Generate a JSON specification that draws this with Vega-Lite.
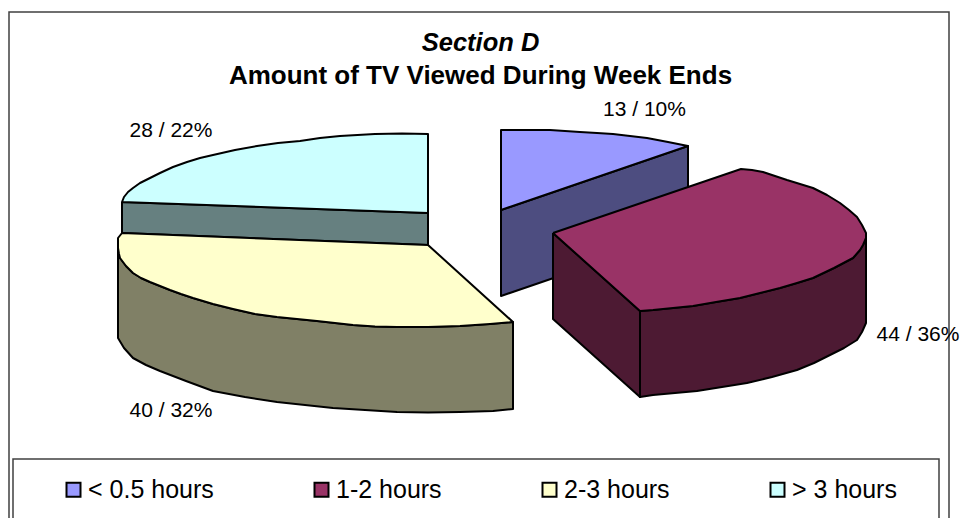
{"$schema":"https://vega.github.io/schema/vega-lite/v6.json","width":961,"height":518,"padding":0,"autosize":{"type":"none"},"background":"white","view":{"stroke":null},
"title":{"text":"Section D","subtitle":"Amount of TV Viewed During Week Ends","anchor":"middle","offset":-89,"font":"Liberation Sans","fontSize":25.5,"fontWeight":"bold","fontStyle":"italic","color":"black","subtitleFont":"Liberation Sans","subtitleFontSize":26,"subtitleFontWeight":"bold","subtitleColor":"black","subtitlePadding":7},
"datasets":{
"frames":[{"name":"chart","x":9,"x2":949,"y":12,"y2":530},{"name":"legend","x":13,"x2":939,"y":459,"y2":530}],
"slices":[{"category":"< 0.5 hours","count":13,"share":10,"label":"13 / 10%","lx":644.5,"ly":110},{"category":"1-2 hours","count":44,"share":36,"label":"44 / 36%","lx":918,"ly":335},{"category":"2-3 hours","count":40,"share":32,"label":"40 / 32%","lx":171,"ly":411},{"category":"> 3 hours","count":28,"share":22,"label":"28 / 22%","lx":171,"ly":131}],
"sides":[
{"category":"> 3 hours","piece":"s1","seq":1,"x":122,"y":202},{"category":"> 3 hours","piece":"s1","seq":2,"x":428,"y":213},{"category":"> 3 hours","piece":"s1","seq":3,"x":428,"y":245},{"category":"> 3 hours","piece":"s1","seq":4,"x":122,"y":233},{"category":"> 3 hours","piece":"s1","seq":5,"x":122,"y":202},
{"category":"2-3 hours","piece":"y1","seq":1,"x":118,"y":248},{"category":"2-3 hours","piece":"y1","seq":2,"x":119,"y":254},{"category":"2-3 hours","piece":"y1","seq":3,"x":120,"y":258},{"category":"2-3 hours","piece":"y1","seq":4,"x":126,"y":266},{"category":"2-3 hours","piece":"y1","seq":5,"x":133,"y":273},{"category":"2-3 hours","piece":"y1","seq":6,"x":141,"y":278},{"category":"2-3 hours","piece":"y1","seq":7,"x":150,"y":282},{"category":"2-3 hours","piece":"y1","seq":8,"x":160,"y":286},{"category":"2-3 hours","piece":"y1","seq":9,"x":170,"y":290},{"category":"2-3 hours","piece":"y1","seq":10,"x":181,"y":294},{"category":"2-3 hours","piece":"y1","seq":11,"x":193,"y":298},{"category":"2-3 hours","piece":"y1","seq":12,"x":213,"y":304},{"category":"2-3 hours","piece":"y1","seq":13,"x":233,"y":309},{"category":"2-3 hours","piece":"y1","seq":14,"x":255,"y":314},{"category":"2-3 hours","piece":"y1","seq":15,"x":277,"y":317},{"category":"2-3 hours","piece":"y1","seq":16,"x":297,"y":319},{"category":"2-3 hours","piece":"y1","seq":17,"x":317,"y":321},{"category":"2-3 hours","piece":"y1","seq":18,"x":335,"y":323},{"category":"2-3 hours","piece":"y1","seq":19,"x":353,"y":325},{"category":"2-3 hours","piece":"y1","seq":20,"x":375,"y":326.5},{"category":"2-3 hours","piece":"y1","seq":21,"x":397,"y":327},{"category":"2-3 hours","piece":"y1","seq":22,"x":428,"y":327},{"category":"2-3 hours","piece":"y1","seq":23,"x":460,"y":326},{"category":"2-3 hours","piece":"y1","seq":24,"x":490,"y":324},{"category":"2-3 hours","piece":"y1","seq":25,"x":513,"y":322},{"category":"2-3 hours","piece":"y1","seq":26,"x":513,"y":409},{"category":"2-3 hours","piece":"y1","seq":27,"x":493,"y":411},{"category":"2-3 hours","piece":"y1","seq":28,"x":460,"y":412},{"category":"2-3 hours","piece":"y1","seq":29,"x":428,"y":412.5},{"category":"2-3 hours","piece":"y1","seq":30,"x":397,"y":412},{"category":"2-3 hours","piece":"y1","seq":31,"x":365,"y":410},{"category":"2-3 hours","piece":"y1","seq":32,"x":333,"y":408},{"category":"2-3 hours","piece":"y1","seq":33,"x":305,"y":405},{"category":"2-3 hours","piece":"y1","seq":34,"x":277,"y":402},{"category":"2-3 hours","piece":"y1","seq":35,"x":245,"y":397},{"category":"2-3 hours","piece":"y1","seq":36,"x":213,"y":391},{"category":"2-3 hours","piece":"y1","seq":37,"x":186,"y":381},{"category":"2-3 hours","piece":"y1","seq":38,"x":160,"y":371},{"category":"2-3 hours","piece":"y1","seq":39,"x":146,"y":365},{"category":"2-3 hours","piece":"y1","seq":40,"x":133,"y":358},{"category":"2-3 hours","piece":"y1","seq":41,"x":124,"y":348},{"category":"2-3 hours","piece":"y1","seq":42,"x":118,"y":338},{"category":"2-3 hours","piece":"y1","seq":43,"x":118,"y":248},
{"category":"< 0.5 hours","piece":"b1","seq":1,"x":501,"y":210},{"category":"< 0.5 hours","piece":"b1","seq":2,"x":688,"y":146},{"category":"< 0.5 hours","piece":"b1","seq":3,"x":688,"y":232},{"category":"< 0.5 hours","piece":"b1","seq":4,"x":501,"y":296},{"category":"< 0.5 hours","piece":"b1","seq":5,"x":501,"y":210},
{"category":"1-2 hours","piece":"m1","seq":1,"x":553,"y":233},{"category":"1-2 hours","piece":"m1","seq":2,"x":640,"y":311},{"category":"1-2 hours","piece":"m1","seq":3,"x":640,"y":397},{"category":"1-2 hours","piece":"m1","seq":4,"x":553,"y":319},{"category":"1-2 hours","piece":"m1","seq":5,"x":553,"y":233},
{"category":"1-2 hours","piece":"m2","seq":1,"x":640,"y":311},{"category":"1-2 hours","piece":"m2","seq":2,"x":653,"y":310},{"category":"1-2 hours","piece":"m2","seq":3,"x":673,"y":308},{"category":"1-2 hours","piece":"m2","seq":4,"x":693,"y":306},{"category":"1-2 hours","piece":"m2","seq":5,"x":716,"y":302},{"category":"1-2 hours","piece":"m2","seq":6,"x":740,"y":298},{"category":"1-2 hours","piece":"m2","seq":7,"x":760,"y":293},{"category":"1-2 hours","piece":"m2","seq":8,"x":780,"y":288},{"category":"1-2 hours","piece":"m2","seq":9,"x":797,"y":283},{"category":"1-2 hours","piece":"m2","seq":10,"x":813,"y":278},{"category":"1-2 hours","piece":"m2","seq":11,"x":834,"y":268},{"category":"1-2 hours","piece":"m2","seq":12,"x":853,"y":258},{"category":"1-2 hours","piece":"m2","seq":13,"x":860,"y":250},{"category":"1-2 hours","piece":"m2","seq":14,"x":863,"y":245},{"category":"1-2 hours","piece":"m2","seq":15,"x":866,"y":238},{"category":"1-2 hours","piece":"m2","seq":16,"x":866,"y":323},{"category":"1-2 hours","piece":"m2","seq":17,"x":862,"y":332},{"category":"1-2 hours","piece":"m2","seq":18,"x":857,"y":340},{"category":"1-2 hours","piece":"m2","seq":19,"x":844,"y":348},{"category":"1-2 hours","piece":"m2","seq":20,"x":830,"y":355},{"category":"1-2 hours","piece":"m2","seq":21,"x":814,"y":363},{"category":"1-2 hours","piece":"m2","seq":22,"x":797,"y":370},{"category":"1-2 hours","piece":"m2","seq":23,"x":772,"y":377},{"category":"1-2 hours","piece":"m2","seq":24,"x":747,"y":383},{"category":"1-2 hours","piece":"m2","seq":25,"x":722,"y":387},{"category":"1-2 hours","piece":"m2","seq":26,"x":697,"y":391},{"category":"1-2 hours","piece":"m2","seq":27,"x":675,"y":393},{"category":"1-2 hours","piece":"m2","seq":28,"x":653,"y":395},{"category":"1-2 hours","piece":"m2","seq":29,"x":640,"y":397},{"category":"1-2 hours","piece":"m2","seq":30,"x":640,"y":311}
],
"tops":[
{"category":"< 0.5 hours","seq":1,"x":501,"y":210},{"category":"< 0.5 hours","seq":2,"x":501,"y":130},{"category":"< 0.5 hours","seq":3,"x":525,"y":130},{"category":"< 0.5 hours","seq":4,"x":550,"y":130},{"category":"< 0.5 hours","seq":5,"x":565,"y":131},{"category":"< 0.5 hours","seq":6,"x":580,"y":132},{"category":"< 0.5 hours","seq":7,"x":597,"y":133},{"category":"< 0.5 hours","seq":8,"x":613,"y":134},{"category":"< 0.5 hours","seq":9,"x":630,"y":136},{"category":"< 0.5 hours","seq":10,"x":647,"y":138},{"category":"< 0.5 hours","seq":11,"x":668,"y":142},{"category":"< 0.5 hours","seq":12,"x":688,"y":146},{"category":"< 0.5 hours","seq":13,"x":501,"y":210},
{"category":"1-2 hours","seq":1,"x":553,"y":233},{"category":"1-2 hours","seq":2,"x":741,"y":169},{"category":"1-2 hours","seq":3,"x":752,"y":170},{"category":"1-2 hours","seq":4,"x":763,"y":172},{"category":"1-2 hours","seq":5,"x":775,"y":176},{"category":"1-2 hours","seq":6,"x":787,"y":180},{"category":"1-2 hours","seq":7,"x":800,"y":184},{"category":"1-2 hours","seq":8,"x":813,"y":188},{"category":"1-2 hours","seq":9,"x":827,"y":195},{"category":"1-2 hours","seq":10,"x":840,"y":203},{"category":"1-2 hours","seq":11,"x":849,"y":210},{"category":"1-2 hours","seq":12,"x":857,"y":217},{"category":"1-2 hours","seq":13,"x":862,"y":225},{"category":"1-2 hours","seq":14,"x":866,"y":233},{"category":"1-2 hours","seq":15,"x":866,"y":238},{"category":"1-2 hours","seq":16,"x":863,"y":245},{"category":"1-2 hours","seq":17,"x":860,"y":250},{"category":"1-2 hours","seq":18,"x":853,"y":258},{"category":"1-2 hours","seq":19,"x":834,"y":268},{"category":"1-2 hours","seq":20,"x":813,"y":278},{"category":"1-2 hours","seq":21,"x":797,"y":283},{"category":"1-2 hours","seq":22,"x":780,"y":288},{"category":"1-2 hours","seq":23,"x":760,"y":293},{"category":"1-2 hours","seq":24,"x":740,"y":298},{"category":"1-2 hours","seq":25,"x":716,"y":302},{"category":"1-2 hours","seq":26,"x":693,"y":306},{"category":"1-2 hours","seq":27,"x":673,"y":308},{"category":"1-2 hours","seq":28,"x":653,"y":310},{"category":"1-2 hours","seq":29,"x":640,"y":311},{"category":"1-2 hours","seq":30,"x":553,"y":233},
{"category":"2-3 hours","seq":1,"x":428,"y":245},{"category":"2-3 hours","seq":2,"x":122,"y":233},{"category":"2-3 hours","seq":3,"x":118,"y":238},{"category":"2-3 hours","seq":4,"x":118,"y":248},{"category":"2-3 hours","seq":5,"x":119,"y":254},{"category":"2-3 hours","seq":6,"x":120,"y":258},{"category":"2-3 hours","seq":7,"x":126,"y":266},{"category":"2-3 hours","seq":8,"x":133,"y":273},{"category":"2-3 hours","seq":9,"x":141,"y":278},{"category":"2-3 hours","seq":10,"x":150,"y":282},{"category":"2-3 hours","seq":11,"x":160,"y":286},{"category":"2-3 hours","seq":12,"x":170,"y":290},{"category":"2-3 hours","seq":13,"x":181,"y":294},{"category":"2-3 hours","seq":14,"x":193,"y":298},{"category":"2-3 hours","seq":15,"x":213,"y":304},{"category":"2-3 hours","seq":16,"x":233,"y":309},{"category":"2-3 hours","seq":17,"x":255,"y":314},{"category":"2-3 hours","seq":18,"x":277,"y":317},{"category":"2-3 hours","seq":19,"x":297,"y":319},{"category":"2-3 hours","seq":20,"x":317,"y":321},{"category":"2-3 hours","seq":21,"x":335,"y":323},{"category":"2-3 hours","seq":22,"x":353,"y":325},{"category":"2-3 hours","seq":23,"x":375,"y":326.5},{"category":"2-3 hours","seq":24,"x":397,"y":327},{"category":"2-3 hours","seq":25,"x":428,"y":327},{"category":"2-3 hours","seq":26,"x":460,"y":326},{"category":"2-3 hours","seq":27,"x":490,"y":324},{"category":"2-3 hours","seq":28,"x":513,"y":322},{"category":"2-3 hours","seq":29,"x":428,"y":245},
{"category":"> 3 hours","seq":1,"x":428,"y":213},{"category":"> 3 hours","seq":2,"x":428,"y":134},{"category":"> 3 hours","seq":3,"x":402,"y":133.5},{"category":"> 3 hours","seq":4,"x":375,"y":134},{"category":"> 3 hours","seq":5,"x":340,"y":136},{"category":"> 3 hours","seq":6,"x":320,"y":138},{"category":"> 3 hours","seq":7,"x":300,"y":141},{"category":"> 3 hours","seq":8,"x":278,"y":143},{"category":"> 3 hours","seq":9,"x":257,"y":146},{"category":"> 3 hours","seq":10,"x":235,"y":150},{"category":"> 3 hours","seq":11,"x":213,"y":155},{"category":"> 3 hours","seq":12,"x":200,"y":158},{"category":"> 3 hours","seq":13,"x":187,"y":162},{"category":"> 3 hours","seq":14,"x":173,"y":167},{"category":"> 3 hours","seq":15,"x":160,"y":173},{"category":"> 3 hours","seq":16,"x":150,"y":178},{"category":"> 3 hours","seq":17,"x":140,"y":183},{"category":"> 3 hours","seq":18,"x":133,"y":188},{"category":"> 3 hours","seq":19,"x":128,"y":192},{"category":"> 3 hours","seq":20,"x":124,"y":197},{"category":"> 3 hours","seq":21,"x":122,"y":202},{"category":"> 3 hours","seq":22,"x":428,"y":213}
]},
"layer":[
{"data":{"name":"frames"},"mark":{"type":"rect","fill":"white","stroke":"#404040","strokeWidth":1.5},"encoding":{"x":{"field":"x","type":"quantitative","axis":null,"scale":{"domain":[0,961],"nice":false,"zero":false}},"x2":{"field":"x2"},"y":{"field":"y","type":"quantitative","axis":null,"scale":{"domain":[518,0],"nice":false,"zero":false}},"y2":{"field":"y2"}}},
{"data":{"name":"sides"},"mark":{"type":"line","stroke":"black","strokeWidth":2,"strokeJoin":"round"},"encoding":{"x":{"field":"x","type":"quantitative","axis":null},"y":{"field":"y","type":"quantitative","axis":null},"order":{"field":"seq","type":"quantitative"},"detail":{"field":"piece"},"fill":{"field":"category","type":"nominal","legend":null,"scale":{"domain":["< 0.5 hours","1-2 hours","2-3 hours","> 3 hours"],"range":["#4D4D80","#4D1A33","#808066","#668080"]}}}},
{"data":{"name":"tops"},"mark":{"type":"line","stroke":"black","strokeWidth":2,"strokeJoin":"round"},"encoding":{"x":{"field":"x","type":"quantitative","axis":null},"y":{"field":"y","type":"quantitative","axis":null},"order":{"field":"seq","type":"quantitative"},"fill":{"field":"category","type":"nominal","scale":{"domain":["< 0.5 hours","1-2 hours","2-3 hours","> 3 hours"],"range":["#9999FF","#993366","#FFFFCC","#CCFFFF"]},"legend":{"title":null,"orient":"none","legendX":61,"legendY":477,"direction":"horizontal","columns":4,"columnPadding":95,"symbolType":"square","symbolSize":196,"symbolStrokeColor":"black","symbolStrokeWidth":2,"labelFont":"Liberation Sans","labelFontSize":25,"labelColor":"black","labelOffset":2,"labelLimit":300}}}},
{"data":{"name":"slices"},"mark":{"type":"text","font":"Liberation Sans","fontSize":21,"color":"black","align":"center","baseline":"middle"},"encoding":{"x":{"field":"lx","type":"quantitative","axis":null},"y":{"field":"ly","type":"quantitative","axis":null},"text":{"field":"label"}}}
],
"resolve":{"scale":{"fill":"independent"}}}
